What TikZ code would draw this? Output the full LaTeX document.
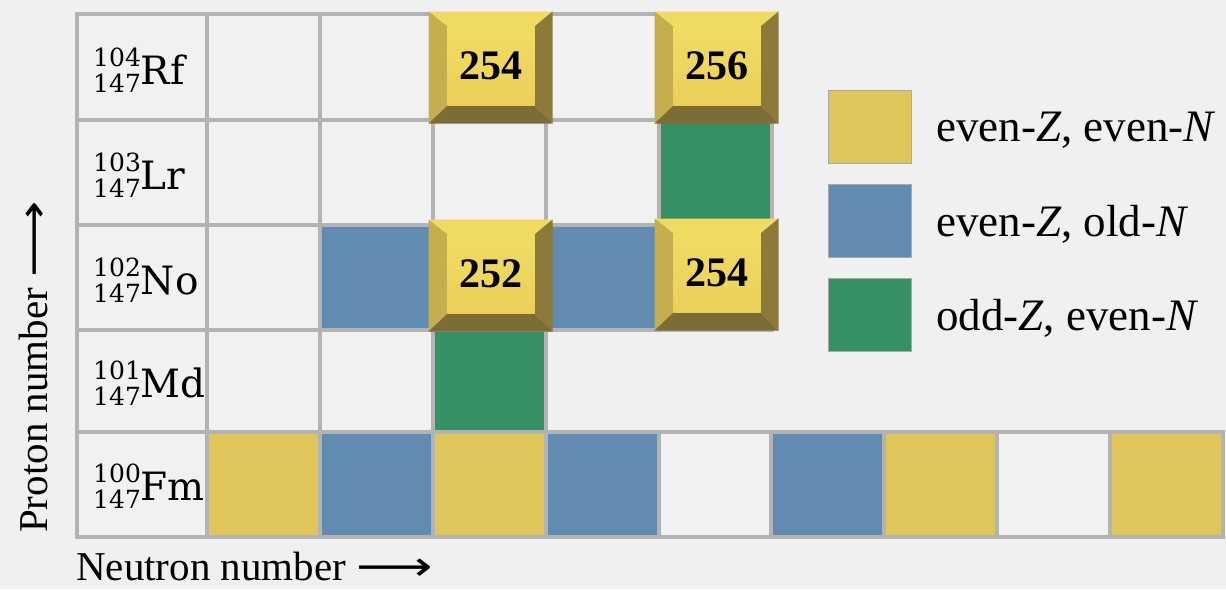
\documentclass[tikz,border=0pt]{standalone}
\usepackage{fontspec}
\setmainfont{Liberation Serif}
\newfontfamily\labfont{DejaVu Serif}
\newfontfamily\arrfont{DejaVu Sans}
\usetikzlibrary{calc}
\definecolor{bg}{HTML}{F0F0F0}
\definecolor{cellw}{HTML}{F1F1F1}
\definecolor{gridc}{HTML}{B3B3B3}
\definecolor{cy}{HTML}{DEC65A}
\definecolor{cb}{HTML}{628BB2}
\definecolor{cg}{HTML}{359063}
\definecolor{btop}{HTML}{EFDA62}
\definecolor{bleft}{HTML}{C5AE4E}
\definecolor{bright}{HTML}{8B7A39}
\definecolor{bbot}{HTML}{7C6C36}
\definecolor{ftop}{HTML}{F1DC63}
\definecolor{fbot}{HTML}{EBCF5B}
\definecolor{swb}{HTML}{A8A8A8}
\newcommand\nuc[3]{{\labfont\fontsize{25}{25}\selectfont\rlap{\raisebox{18pt}{#1}}\raisebox{-8pt}{#2}\fontsize{39}{39}\selectfont#3}}
\newcommand\longarr{\scalebox{1.3}[1]{\arrfont ⟶}}
\tikzset{
  cellbox/.style={rectangle, draw=gridc, line width=4pt, fill=cellw, inner sep=0pt, outer sep=0pt, minimum width=113pt, minimum height=105pt},
  labcell/.style={minimum width=130pt},
  labtext/.style={anchor=base west, inner sep=0pt},
  bevelnode/.style={rectangle, inner sep=0pt, outer sep=0pt, minimum width=124pt, minimum height=112pt},
  numtext/.style={inner sep=0pt, font=\bfseries\fontsize{42}{42}\selectfont},
  swatch/.style={rectangle, draw=swb, line width=1pt, inner sep=0pt, minimum width=83pt, minimum height=73pt},
  legtext/.style={anchor=base west, inner sep=0pt, font=\fontsize{45}{45}\selectfont},
  axistext/.style={anchor=base west, inner sep=0pt, font=\fontsize{41}{41}\selectfont}
}
\newcommand\bevelbox[4]{%
  \node[bevelnode] (#1) at (#2,#3) {};
  \coordinate (#1-a) at ([xshift=19pt,yshift=-15pt]#1.north west);
  \coordinate (#1-b) at ([xshift=-18pt,yshift=-15pt]#1.north east);
  \coordinate (#1-c) at ([xshift=-18pt,yshift=18pt]#1.south east);
  \coordinate (#1-d) at ([xshift=19pt,yshift=18pt]#1.south west);
  \fill[btop] (#1.north west) -- (#1.north east) -- (#1-b) -- (#1-a) -- cycle;
  \fill[bleft] (#1.north west) -- (#1-a) -- (#1-d) -- (#1.south west) -- cycle;
  \fill[bright] (#1.north east) -- (#1.south east) -- (#1-c) -- (#1-b) -- cycle;
  \fill[bbot] (#1.south west) -- (#1-d) -- (#1-c) -- (#1.south east) -- cycle;
  \shade[top color=ftop, bottom color=fbot] (#1-a) rectangle (#1-c);
  \node[numtext] (#1-t) at ($(#1-a)!0.5!(#1-c)$) {#4};
}
\begin{document}
\begin{tikzpicture}[x=1pt,y=-1pt]
\fill[bg] (0,0) rectangle (1226,589);
\useasboundingbox (0,0) rectangle (1226,589);
% row Rf
\node[cellbox, labcell, minimum height=106pt] (r0c0) at (142,67) {};
\node[cellbox, minimum height=106pt] (r0c1) at (263.5,67) {};
\node[cellbox, minimum height=106pt] (r0c2) at (376.5,67) {};
\node[cellbox, minimum height=106pt] (r0c3) at (489.5,67) {};
\node[cellbox, minimum height=106pt] (r0c4) at (602.5,67) {};
\node[cellbox, minimum height=106pt] (r0c5) at (715,67) {};
% row Lr
\node[cellbox, labcell] (r1c0) at (142,172.5) {};
\node[cellbox] (r1c1) at (263.5,172.5) {};
\node[cellbox] (r1c2) at (376.5,172.5) {};
\node[cellbox] (r1c3) at (489.5,172.5) {};
\node[cellbox] (r1c4) at (602.5,172.5) {};
\node[cellbox, fill=cg] (r1c5) at (715,172.5) {};
% row No
\node[cellbox, labcell] (r2c0) at (142,277.5) {};
\node[cellbox] (r2c1) at (263.5,277.5) {};
\node[cellbox, fill=cb] (r2c2) at (376.5,277.5) {};
\node[cellbox] (r2c3) at (489.5,277.5) {};
\node[cellbox, fill=cb] (r2c4) at (602.5,277.5) {};
\node[cellbox] (r2c5) at (715,277.5) {};
% row Md
\node[cellbox, labcell, minimum height=102pt] (r3c0) at (142,381) {};
\node[cellbox, minimum height=102pt] (r3c1) at (263.5,381) {};
\node[cellbox, minimum height=102pt] (r3c2) at (376.5,381) {};
\node[cellbox, minimum height=102pt, fill=cg] (r3c3) at (489.5,381) {};
% row Fm
\node[cellbox, labcell] (r4c0) at (142,484.5) {};
\node[cellbox, fill=cy] (r4c1) at (263.5,484.5) {};
\node[cellbox, fill=cb] (r4c2) at (376.5,484.5) {};
\node[cellbox, fill=cy] (r4c3) at (489.5,484.5) {};
\node[cellbox, fill=cb] (r4c4) at (602.5,484.5) {};
\node[cellbox] (r4c5) at (715,484.5) {};
\node[cellbox, fill=cb] (r4c6) at (827.5,484.5) {};
\node[cellbox, fill=cy] (r4c7) at (940.5,484.5) {};
\node[cellbox] (r4c8) at (1053.5,484.5) {};
\node[cellbox, fill=cy] (r4c9) at (1166.5,484.5) {};
\draw[gridc, line width=4pt] (r4c0.north west) rectangle (r4c9.south east);
% labels
\node[labtext] (lRf) at (93,84) {\nuc{104}{147}{Rf}};
\node[labtext] (lLr) at (93,189) {\nuc{103}{147}{Lr}};
\node[labtext] (lNo) at (93,294) {\nuc{102}{147}{No}};
\node[labtext] (lMd) at (93,397) {\nuc{101}{147}{Md}};
\node[labtext] (lFm) at (93,500) {\nuc{100}{147}{Fm}};
% bevel boxes
\bevelbox{bRf}{490.5}{67.5}{254}
\bevelbox{bRfb}{716.5}{67.5}{256}
\bevelbox{bNo}{490.5}{275.5}{252}
\bevelbox{bNob}{716.5}{274.5}{254}
% legend
\node[swatch, fill=cy] (sw1) at (869.5,126.5) {};
\node[swatch, fill=cb] (sw2) at (869.5,221) {};
\node[swatch, fill=cg] (sw3) at (869.5,315) {};
\node[legtext] (lt1) at (936,141.5) {even-\textit{Z}, even-\textit{N}};
\node[legtext] (lt2) at (936,236) {even-\textit{Z}, old-\textit{N}};
\node[legtext] (lt3) at (936,330) {odd-\textit{Z}, even-\textit{N}};
% axes
\node[axistext, rotate=90] (ylab) at (47,533) {Proton number \longarr};
\node[axistext] (xlab) at (76,580) {Neutron number \longarr};
\end{tikzpicture}
\end{document}
